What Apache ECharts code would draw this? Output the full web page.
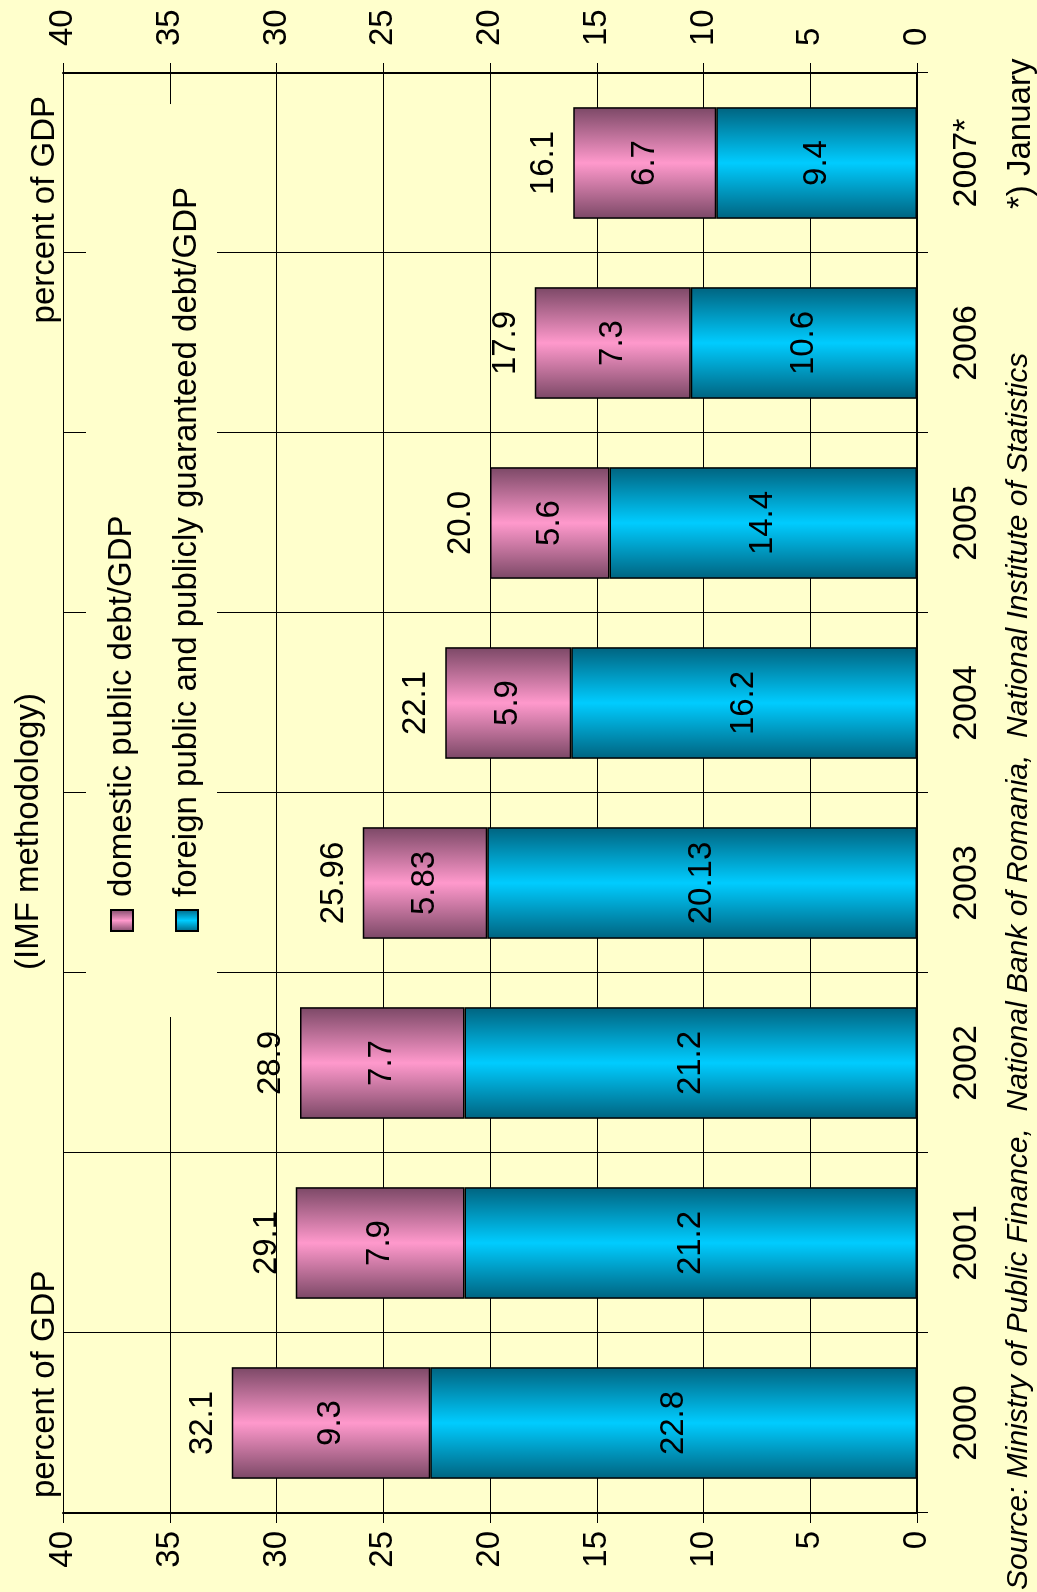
<!DOCTYPE html>
<html><head><meta charset="utf-8">
<script src="https://cdn.jsdelivr.net/npm/echarts@6/dist/echarts.min.js"></script>
<style>
html,body{margin:0;padding:0;overflow:hidden;background:#FFFFCC;width:1037px;height:1592px;}
#chart{position:absolute;left:0;top:0;width:1592px;height:1037px;transform-origin:0 0;transform:translate(0px,1592px) rotate(-90deg);}
</style></head><body><div id="chart"></div>
<script>
const categories = ['2000', '2001', '2002', '2003', '2004', '2005', '2006', '2007*'];
const domestic = [9.3, 7.9, 7.7, 5.83, 5.9, 5.6, 7.3, 6.7];
const foreign = [22.8, 21.2, 21.2, 20.13, 16.2, 14.4, 10.6, 9.4];
const totals = [32.1, 29.1, 28.9, 25.96, 22.1, 20.0, 17.9, 16.1];
const totalLabels = ['32.1', '29.1', '28.9', '25.96', '22.1', '20.0', '17.9', '16.1'];
const seriesNames = ['domestic public debt/GDP', 'foreign public and publicly guaranteed debt/GDP'];
const valueMin = 0, valueMax = 40, valueStep = 5;

const FONT = "'Liberation Sans', Arial, sans-serif";
const chart = echarts.init(document.getElementById('chart'), null, {renderer: 'canvas'});

const grad = (edge, mid) => new echarts.graphic.LinearGradient(0, 0, 1, 0, [
  {offset: 0, color: edge}, {offset: 0.5, color: mid}, {offset: 1, color: edge}
]);

const valueAxisBase = {
  type: 'value', min: valueMin, max: valueMax, interval: valueStep,
  axisLine: {show: true, lineStyle: {color: '#000', width: 2}},
  axisTick: {show: true, length: 10, inside: false, lineStyle: {color: '#000', width: 1}},
  axisLabel: {color: '#000', fontSize: 33, fontFamily: FONT}
};

const option = {
  backgroundColor: '#FFFFCC',
  animation: false,
  textStyle: {fontFamily: FONT},
  title: [
    {text: '(IMF methodology)', left: 622, top: 12, padding: 0,
     textStyle: {fontSize: 33, fontWeight: 'normal', color: '#000', fontFamily: FONT}},
    {text: 'percent of GDP', left: 94, top: 28, padding: 0,
     textStyle: {fontSize: 33, fontWeight: 'normal', color: '#000', fontFamily: FONT}},
    {text: 'percent of GDP', right: 96, top: 28, padding: 0,
     textStyle: {fontSize: 33, fontWeight: 'normal', color: '#000', fontFamily: FONT}},
    {text: 'Source: Ministry of Public Finance,  National Bank of Romania,  National Institute of Statistics', left: 2, top: 1004, padding: 0,
     textStyle: {fontSize: 30, fontWeight: 'normal', fontStyle: 'italic', color: '#000', fontFamily: FONT}},
    {text: '*) January', left: 1383, top: 1004, padding: 0,
     textStyle: {fontSize: 33, fontWeight: 'normal', color: '#000', fontFamily: FONT}}
  ],
  legend: {
    data: seriesNames,
    orient: 'vertical',
    left: 575, top: 86,
    padding: [18, 83, 12, 85],
    backgroundColor: '#FFFFCC',
    itemWidth: 21, itemHeight: 22, itemGap: 29,
    icon: 'rect',
    textStyle: {fontSize: 33, color: '#000', fontFamily: FONT, lineHeight: 36, padding: [0, 0, 0, 8]},
    z: 10
  },
  grid: {left: 79, right: 73, top: 63, bottom: 120, containLabel: false},
  xAxis: {
    type: 'category', data: categories,
    axisLine: {show: true, lineStyle: {color: '#000', width: 2}},
    axisTick: {show: true, length: 11, interval: 0, lineStyle: {color: '#000', width: 1}},
    axisLabel: {color: '#000', fontSize: 34, margin: 33, interval: 0, fontFamily: FONT},
    splitLine: {show: true, interval: 0, lineStyle: {color: '#000', width: 1}}
  },
  yAxis: [
    Object.assign({}, valueAxisBase, {position: 'left',
      axisLabel: Object.assign({}, valueAxisBase.axisLabel, {margin: 18}),
      splitLine: {show: true, lineStyle: {color: '#000', width: 1}}}),
    Object.assign({}, valueAxisBase, {position: 'right',
      axisLabel: Object.assign({}, valueAxisBase.axisLabel, {margin: 27}),
      splitLine: {show: false}})
  ],
  series: [
    {
      name: seriesNames[1], type: 'bar', stack: 'debt', data: foreign, yAxisIndex: 0,
      barCategoryGap: '38%',
      itemStyle: {color: grad('#00637F', '#00CCFF'), borderColor: '#000', borderWidth: 1.5},
      label: {show: true, position: 'inside', color: '#000', fontSize: 33, fontFamily: FONT}
    },
    {
      name: seriesNames[0], type: 'bar', stack: 'debt', data: domestic, yAxisIndex: 0,
      barCategoryGap: '38%',
      itemStyle: {color: grad('#7B4866', '#FF99CC'), borderColor: '#000', borderWidth: 1.5},
      label: {show: true, position: 'inside', color: '#000', fontSize: 33, fontFamily: FONT}
    },
    {
      name: 'total', type: 'scatter', data: totals, yAxisIndex: 0,
      symbolSize: 1, itemStyle: {color: 'rgba(0,0,0,0)', opacity: 1},
      label: {show: true, position: 'top', distance: 12, color: '#000', opacity: 1, fontSize: 33, fontFamily: FONT,
        formatter: p => totalLabels[p.dataIndex]},
      z: 5
    }
  ]
};
chart.setOption(option);
</script></body></html>
